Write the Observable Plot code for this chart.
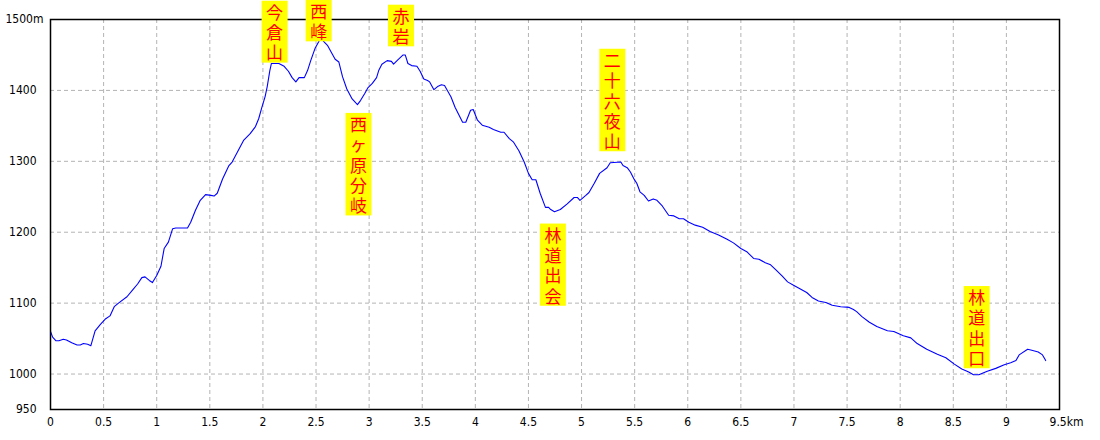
<!DOCTYPE html>
<html>
<head>
<meta charset="utf-8">
<script src="https://cdn.jsdelivr.net/npm/d3@7"></script>
<script src="https://cdn.jsdelivr.net/npm/@observablehq/plot@0.6"></script>
<style>
  html, body { margin: 0; padding: 0; background: #fff; }
</style>
</head>
<body>
<div id="chart"></div>
<script>
// Distance along the route (km)
const distKm = [
  0.00, 0.02, 0.05, 0.08, 0.12, 0.15, 0.20, 0.25, 0.28, 0.31, 0.35, 0.38, 0.42, 0.47, 0.52, 0.56,
  0.60, 0.64, 0.72, 0.77, 0.82, 0.86, 0.89, 0.93, 0.96, 1.00, 1.04, 1.07, 1.11, 1.15, 1.18, 1.29,
  1.32, 1.365, 1.41, 1.46, 1.51, 1.54, 1.57, 1.62, 1.68, 1.71, 1.76, 1.82, 1.88, 1.93, 1.96, 1.99,
  2.02, 2.04, 2.065, 2.08, 2.15, 2.20, 2.24, 2.275, 2.31, 2.34, 2.39, 2.42, 2.45, 2.49, 2.53, 2.56,
  2.61, 2.65, 2.68, 2.715, 2.75, 2.79, 2.84, 2.89, 2.92, 2.96, 2.99, 3.03, 3.07, 3.09, 3.12, 3.17,
  3.21, 3.23, 3.27, 3.32, 3.34, 3.365, 3.40, 3.45, 3.48, 3.515, 3.55, 3.57, 3.61, 3.65, 3.68, 3.71,
  3.77, 3.81, 3.88, 3.91, 3.955, 3.98, 4.02, 4.065, 4.13, 4.17, 4.24, 4.27, 4.32, 4.36, 4.41, 4.46,
  4.50, 4.535, 4.57, 4.61, 4.66, 4.69, 4.71, 4.745, 4.80, 4.865, 4.93, 4.96, 4.985, 5.04, 5.07, 5.12,
  5.17, 5.24, 5.27, 5.37, 5.39, 5.43, 5.46, 5.49, 5.52, 5.55, 5.59, 5.63, 5.675, 5.71, 5.76, 5.82,
  5.87, 5.92, 5.96, 6.01, 6.07, 6.14, 6.21, 6.29, 6.37, 6.43, 6.50, 6.56, 6.62, 6.67, 6.73, 6.78,
  6.83, 6.89, 6.94, 7.00, 7.06, 7.12, 7.17, 7.23, 7.30, 7.36, 7.44, 7.52, 7.56, 7.59, 7.64, 7.71,
  7.78, 7.88, 7.94, 8.03, 8.10, 8.16, 8.25, 8.35, 8.43, 8.51, 8.58, 8.645, 8.69, 8.74, 8.82, 8.90,
  8.98, 9.04, 9.09, 9.12, 9.20, 9.23, 9.30, 9.34, 9.37
];
// Elevation (m)
const elevM = [
  1060, 1052, 1047, 1047, 1049, 1048, 1044, 1041, 1041, 1043, 1042, 1040, 1061, 1070, 1078, 1082,
  1095, 1100, 1109, 1118, 1127, 1136, 1137, 1132, 1129, 1139, 1152, 1177, 1186, 1205, 1206, 1206,
  1214, 1231, 1245, 1253, 1252, 1251, 1255, 1275, 1294, 1299, 1313, 1330, 1339, 1349, 1360, 1376,
  1391, 1405, 1428, 1438, 1438, 1434, 1427, 1418, 1412, 1418, 1418, 1428, 1442, 1459, 1470, 1471,
  1463, 1452, 1444, 1440, 1419, 1402, 1388, 1380, 1386, 1396, 1404, 1410, 1418, 1428, 1437, 1442,
  1441, 1437, 1443, 1450, 1450, 1438, 1435, 1434, 1427, 1416, 1414, 1412, 1401, 1406, 1408, 1407,
  1391, 1376, 1355, 1355, 1372, 1373, 1358, 1351, 1348, 1345, 1341, 1341, 1332, 1327, 1315, 1299,
  1283, 1274, 1274, 1255, 1235, 1235, 1232, 1229, 1232, 1240, 1249, 1249, 1245, 1252, 1256, 1269,
  1283, 1291, 1298, 1299, 1294, 1291, 1285, 1276, 1269, 1257, 1252, 1244, 1247, 1245, 1237, 1224,
  1223, 1219, 1219, 1214, 1210, 1207, 1201, 1196, 1190, 1185, 1177, 1172, 1163, 1162, 1157, 1154,
  1147, 1138, 1130, 1125, 1120, 1115, 1108, 1103, 1101, 1097, 1095, 1094, 1091, 1088, 1081, 1073,
  1067, 1061, 1060, 1054, 1051, 1043, 1035, 1028, 1023, 1014, 1007, 1003, 999, 999, 1004, 1008,
  1013, 1016, 1019, 1027, 1035, 1034, 1031, 1027, 1019
];

// Waypoint labels
const labelNames = ["今倉山", "西峰", "赤岩", "西ヶ原分岐", "林道出会", "二十六夜山", "林道出口"];
const labelKm    = [2.11, 2.525, 3.30, 2.90, 4.73, 5.29, 8.72];
const labelElev  = [1438, 1468, 1461, 1370, 1214, 1313, 1007];
const labelSide  = ["above", "above", "above", "below", "below", "above", "above"];

// Axis ticks
const xTicks = [0, 0.5, 1, 1.5, 2, 2.5, 3, 3.5, 4, 4.5, 5, 5.5, 6, 6.5, 7, 7.5, 8, 8.5, 9];
const xEndTick = [9.5];
const xGrid = [0.5, 1, 1.5, 2, 2.5, 3, 3.5, 4, 4.5, 5, 5.5, 6, 6.5, 7, 7.5, 8, 8.5, 9];
const yTicks = [950, 1000, 1100, 1200, 1300, 1400];
const yEndTick = [1500];
const yGrid = [1000, 1100, 1200, 1300, 1400];

const profile = distKm.map((k, i) => ({km: k, elev: elevM[i]}));
const labels = labelNames.map((n, i) => ({
  text: Array.from(n).join("\n"), n: Array.from(n).length,
  km: labelKm[i], elev: labelElev[i], side: labelSide[i]
}));

const tickFont = "'Liberation Sans Narrow', 'DejaVu Sans Condensed', sans-serif";
const gridStyle = {stroke: "#b4b4b4", strokeDasharray: "4,3", strokeWidth: 1};
const labelStyle = {
  x: "km", y: "elev", text: "text",
  fill: "#ff0000", fontSize: 17, lineHeight: 1.194,
  fontFamily: "'Noto Sans CJK JP', sans-serif", textAnchor: "middle"
};

const chart = Plot.plot({
  width: 1100,
  height: 440,
  marginLeft: 50,
  marginRight: 41,
  marginTop: 19,
  marginBottom: 31,
  x: {domain: [0, 9.5]},
  y: {domain: [950, 1500]},
  style: {fontFamily: tickFont, fontSize: "12px", background: "#fff", color: "#000", overflow: "visible"},
  marks: [
    Plot.ruleX(xGrid, gridStyle),
    Plot.ruleY(yGrid, gridStyle),
    Plot.line(profile, {x: "km", y: "elev", stroke: "#0000ff", strokeWidth: 1.1}),
    Plot.frame({stroke: "#000", strokeWidth: 1.5}),
    Plot.axisX({ticks: xTicks, tickSize: 0, tickPadding: 8, tickFormat: d => `${d}`, label: null}),
    Plot.axisX({ticks: xEndTick, tickSize: 0, tickPadding: 8, tickFormat: d => `${d}km`, dx: 7, label: null}),
    Plot.axisY({ticks: yTicks, tickSize: 0, tickPadding: 14, tickFormat: d => `${d}`, label: null}),
    Plot.axisY({ticks: yEndTick, tickSize: 0, tickPadding: 14, tickFormat: d => `${d}m`, dx: 7, label: null}),
    Plot.text(labels.filter(d => d.side === "above"), {...labelStyle, lineAnchor: "bottom", dy: -4}),
    Plot.text(labels.filter(d => d.side === "below"), {...labelStyle, lineAnchor: "top", dy: 5})
  ]
});

document.getElementById("chart").appendChild(chart);

// Yellow boxes behind the waypoint labels
d3.select(chart).selectAll('g[aria-label="text"] text').each(function() {
  const t = this;
  const bb = t.getBBox();
  const n = t.querySelectorAll("tspan").length || 1;
  const h = n * 20.3 + 1;
  const cx = bb.x + bb.width / 2;
  const cy = bb.y + bb.height / 2;
  const rect = document.createElementNS("http://www.w3.org/2000/svg", "rect");
  rect.setAttribute("x", cx - 13);
  rect.setAttribute("y", cy - h / 2);
  rect.setAttribute("width", 26);
  rect.setAttribute("height", h);
  rect.setAttribute("fill", "#ffff00");
  const tr = t.getAttribute("transform");
  if (tr) rect.setAttribute("transform", tr);
  t.parentNode.insertBefore(rect, t);
});
</script>
</body>
</html>
